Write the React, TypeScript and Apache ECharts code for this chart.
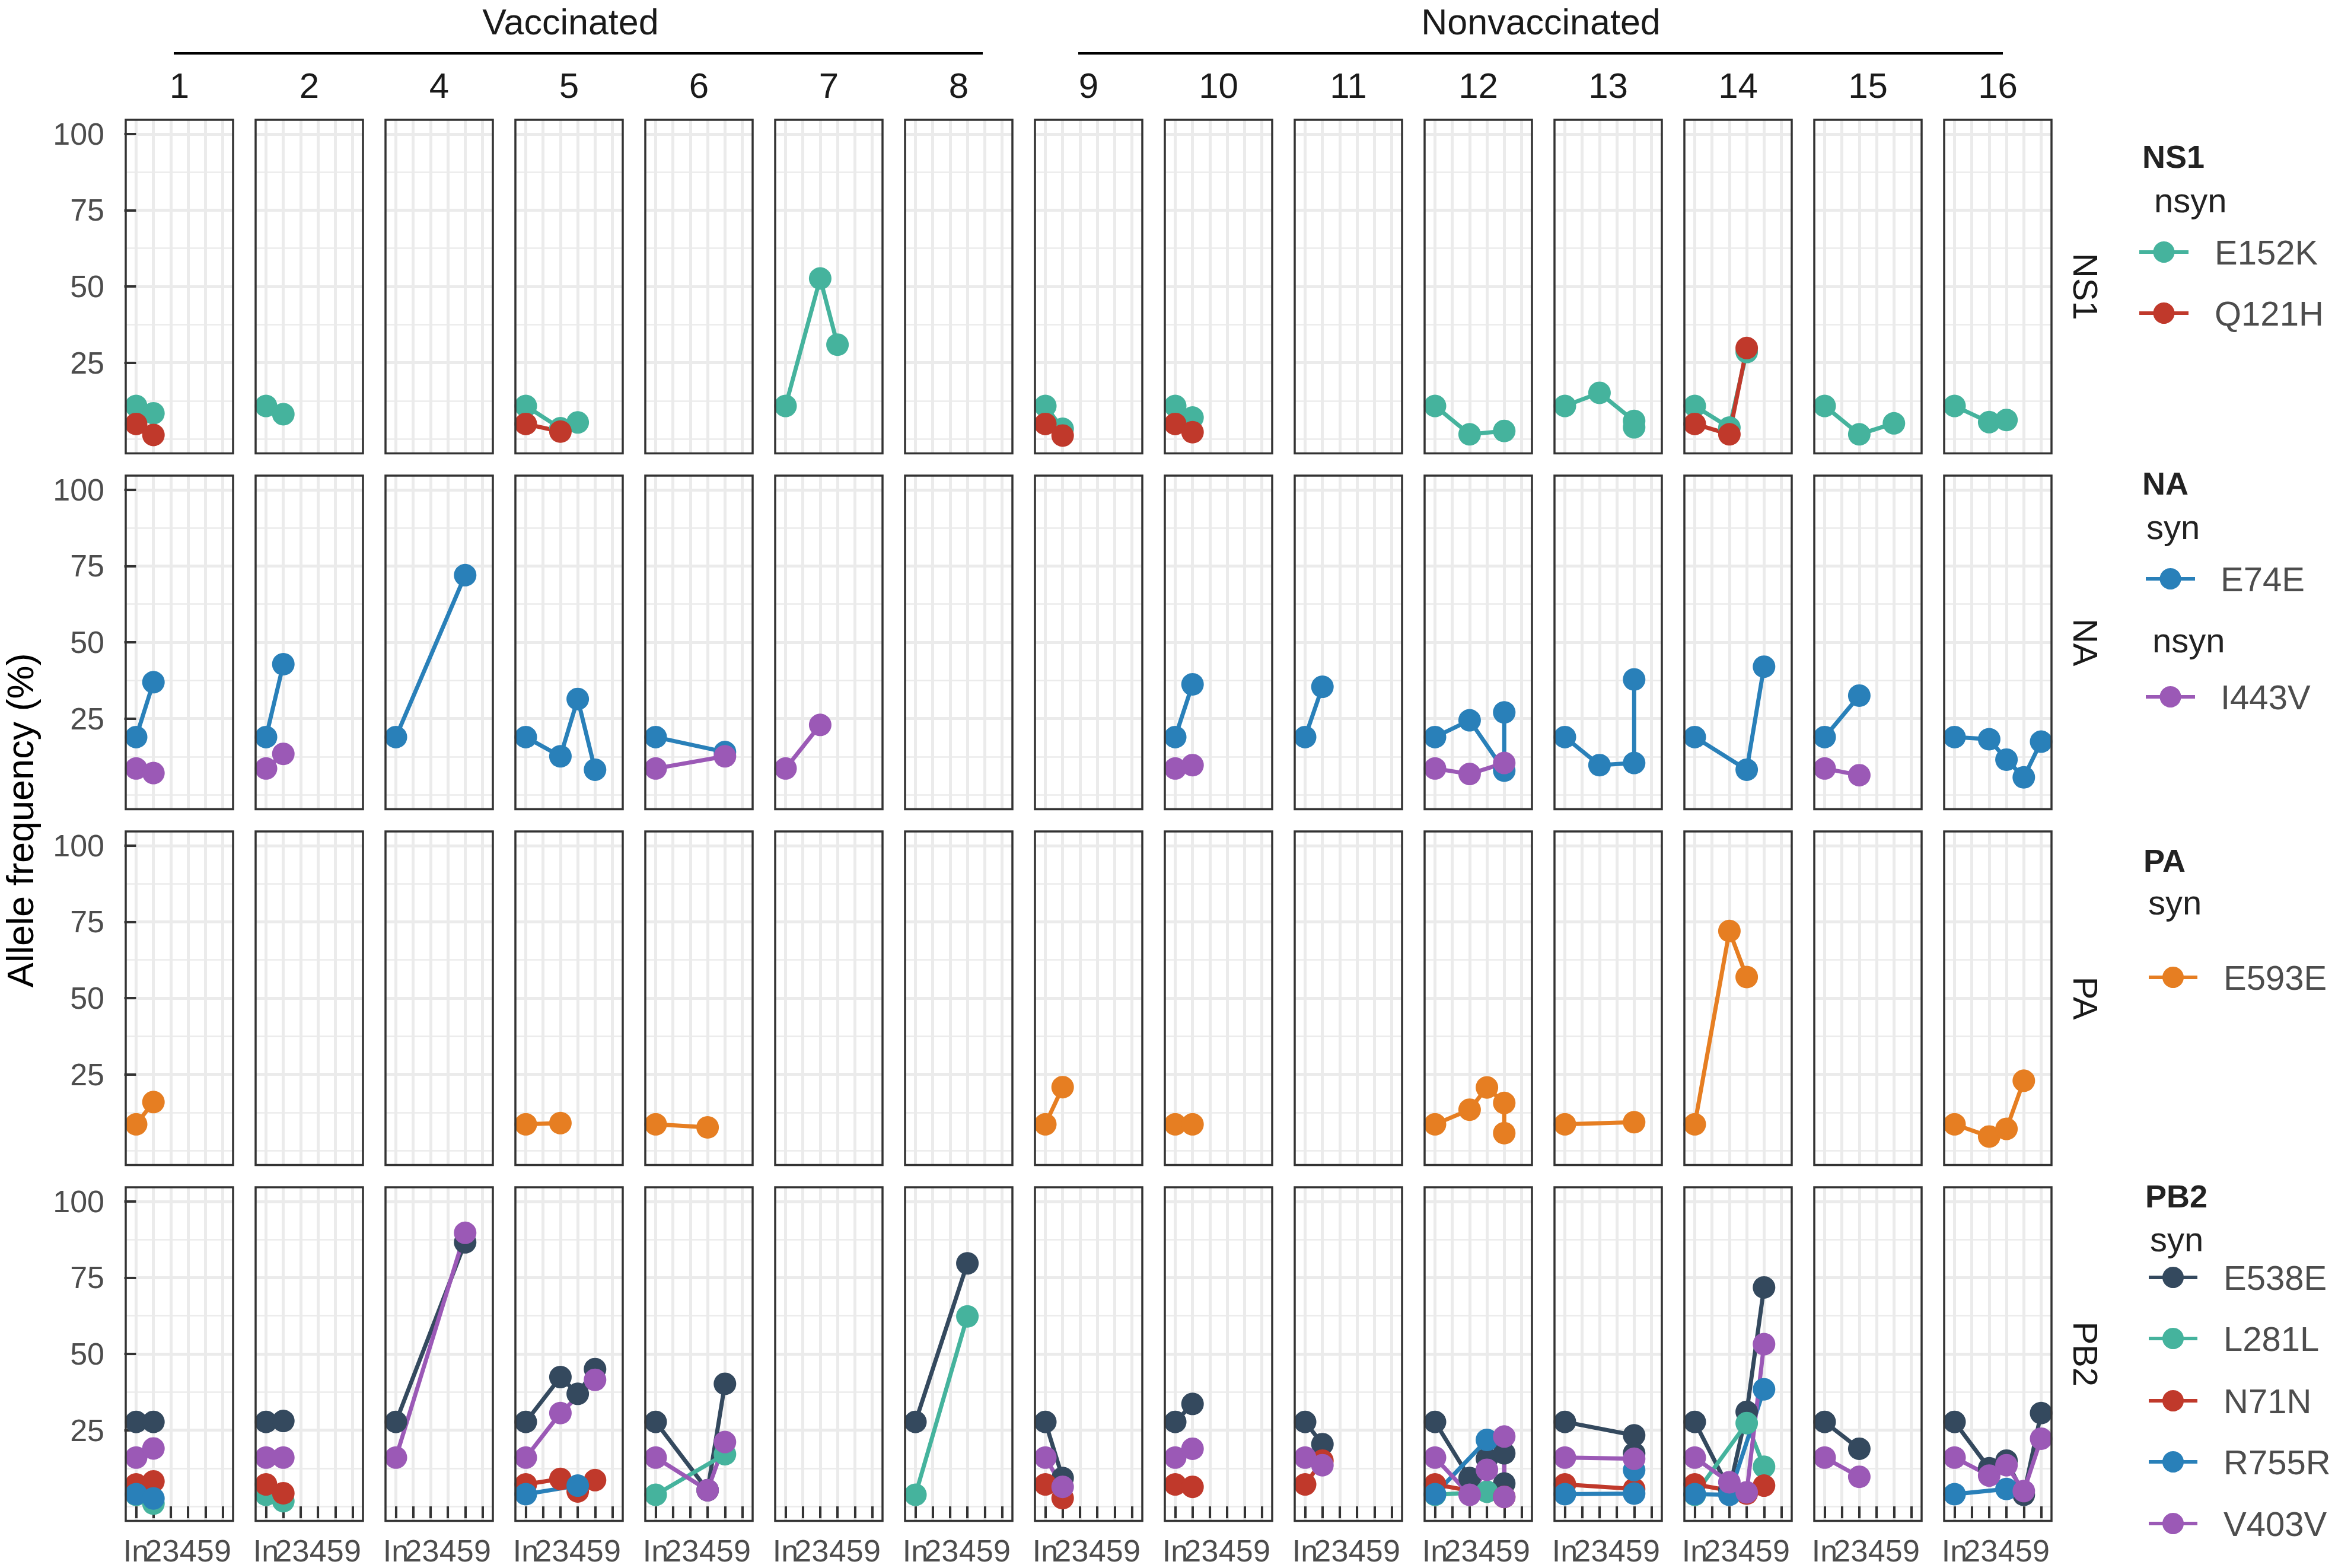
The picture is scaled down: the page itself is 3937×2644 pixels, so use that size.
import React, { useEffect, useRef } from "react";
import * as echarts from "echarts";

// ---------- data ----------
const columns = ["1", "2", "4", "5", "6", "7", "8", "9", "10", "11", "12", "13", "14", "15", "16"];
const timepoints = ["In", "2", "3", "4", "5", "9"];
const genes = ["NS1", "NA", "PA", "PB2"];
const yTicks = [25, 50, 75, 100];
const yMinor = [0, 12.5, 37.5, 62.5, 87.5];
const groupLabels = ["Vaccinated", "Nonvaccinated"];

type Pts = Record<string, [string, number][]>;

// NS1 nsyn
const NS1_E152K: Pts = {
  "1": [["In", 10.8], ["2", 8.4]],
  "2": [["In", 10.8], ["2", 8.1]],
  "5": [["In", 10.8], ["3", 3.5], ["4", 5.4]],
  "7": [["In", 10.8], ["3", 52.6], ["4", 30.9]],
  "9": [["In", 10.8], ["2", 3.3]],
  "10": [["In", 10.8], ["2", 7.0]],
  "12": [["In", 10.8], ["3", 1.5], ["5", 2.6]],
  "13": [["In", 10.8], ["3", 15.1], ["5", 5.9], ["5", 3.8]],
  "14": [["In", 10.8], ["3", 3.7], ["4", 28.5]],
  "15": [["In", 10.8], ["3", 1.5], ["5", 5.1]],
  "16": [["In", 10.8], ["3", 5.5], ["4", 6.2]],
};
const NS1_Q121H: Pts = {
  "1": [["In", 4.9], ["2", 1.3]],
  "5": [["In", 4.9], ["3", 2.4]],
  "9": [["In", 4.9], ["2", 1.1]],
  "10": [["In", 4.9], ["2", 2.2]],
  "14": [["In", 4.9], ["3", 1.5], ["4", 29.8]],
};
// NA syn
const NA_E74E: Pts = {
  "1": [["In", 18.9], ["2", 36.9]],
  "2": [["In", 18.9], ["2", 42.8]],
  "4": [["In", 18.9], ["5", 72.0]],
  "5": [["In", 18.9], ["3", 12.6], ["4", 31.4], ["5", 8.2]],
  "6": [["In", 18.9], ["5", 14.0]],
  "10": [["In", 18.9], ["2", 36.2]],
  "11": [["In", 18.9], ["2", 35.4]],
  "12": [["In", 18.9], ["3", 24.4], ["5", 7.9], ["5", 27.0]],
  "13": [["In", 18.9], ["3", 9.7], ["5", 10.4], ["5", 37.8]],
  "14": [["In", 18.9], ["4", 8.2], ["5", 42.0]],
  "15": [["In", 18.9], ["3", 32.5]],
  "16": [["In", 18.9], ["3", 18.2], ["4", 11.5], ["5", 5.7], ["9", 17.4]],
};
// NA nsyn
const NA_I443V: Pts = {
  "1": [["In", 8.6], ["2", 7.1]],
  "2": [["In", 8.6], ["2", 13.4]],
  "6": [["In", 8.6], ["5", 12.6]],
  "7": [["In", 8.6], ["3", 22.9]],
  "10": [["In", 8.6], ["2", 9.7]],
  "12": [["In", 8.6], ["3", 6.8], ["5", 10.4]],
  "15": [["In", 8.6], ["3", 6.4]],
};
// PA syn
const PA_E593E: Pts = {
  "1": [["In", 8.6], ["2", 15.9]],
  "5": [["In", 8.6], ["3", 9.0]],
  "6": [["In", 8.6], ["4", 7.6]],
  "9": [["In", 8.6], ["2", 20.8]],
  "10": [["In", 8.6], ["2", 8.6]],
  "12": [["In", 8.6], ["3", 13.4], ["4", 20.7], ["5", 15.6], ["5", 5.7]],
  "13": [["In", 8.6], ["5", 9.3]],
  "14": [["In", 8.6], ["3", 72.0], ["4", 56.9]],
  "16": [["In", 8.6], ["3", 4.6], ["4", 7.1], ["5", 22.9]],
};
// PB2 syn
const PB2_E538E: Pts = {
  "1": [["In", 27.7], ["2", 27.7]],
  "2": [["In", 27.7], ["2", 28.0]],
  "4": [["In", 27.7], ["5", 86.6]],
  "5": [["In", 27.7], ["3", 42.4], ["4", 36.9], ["5", 45.0]],
  "6": [["In", 27.7], ["4", 5.3], ["5", 40.2]],
  "8": [["In", 27.7], ["4", 79.7]],
  "9": [["In", 27.7], ["2", 9.3]],
  "10": [["In", 27.7], ["2", 33.6]],
  "11": [["In", 27.7], ["2", 20.4]],
  "12": [["In", 27.7], ["3", 9.3], ["4", 15.6], ["5", 17.4], ["5", 7.5]],
  "13": [["In", 27.7], ["5", 23.3], ["5", 17.4]],
  "14": [["In", 27.7], ["3", 5.5], ["4", 31.0], ["5", 71.8]],
  "15": [["In", 27.7], ["3", 18.9]],
  "16": [["In", 27.7], ["3", 12.5], ["4", 15.0], ["5", 3.8], ["9", 30.6]],
};
const PB2_L281L: Pts = {
  "1": [["In", 3.8], ["2", 0.9]],
  "2": [["In", 3.8], ["2", 1.7]],
  "6": [["In", 3.8], ["5", 17.1]],
  "8": [["In", 3.8], ["4", 62.3]],
  "12": [["In", 3.8], ["4", 4.8]],
  "14": [["In", 3.8], ["4", 27.3], ["5", 13.0]],
};
const PB2_N71N: Pts = {
  "1": [["In", 7.2], ["2", 8.2]],
  "2": [["In", 7.2], ["2", 4.3]],
  "5": [["In", 7.2], ["3", 9.0], ["4", 4.9], ["5", 8.6]],
  "9": [["In", 7.2], ["2", 2.7]],
  "10": [["In", 7.2], ["2", 6.4]],
  "11": [["In", 7.2], ["2", 15.0]],
  "12": [["In", 7.2], ["5", 3.1]],
  "13": [["In", 7.2], ["5", 5.7]],
  "14": [["In", 7.2], ["4", 4.2], ["5", 6.8]],
};
const PB2_R755R: Pts = {
  "1": [["In", 4.0], ["2", 2.6]],
  "5": [["In", 4.0], ["4", 6.8]],
  "12": [["In", 4.0], ["4", 21.8]],
  "13": [["In", 4.0], ["5", 4.2], ["5", 11.9]],
  "14": [["In", 4.0], ["3", 3.8], ["5", 38.4]],
  "16": [["In", 4.0], ["4", 5.7]],
};
const PB2_V403V: Pts = {
  "1": [["In", 16.0], ["2", 19.0]],
  "2": [["In", 16.0], ["2", 16.0]],
  "4": [["In", 16.0], ["5", 89.7]],
  "5": [["In", 16.0], ["3", 30.6], ["5", 41.5]],
  "6": [["In", 16.0], ["4", 5.3], ["5", 21.1]],
  "9": [["In", 16.0], ["2", 6.4]],
  "10": [["In", 16.0], ["2", 18.9]],
  "11": [["In", 16.0], ["2", 13.5]],
  "12": [["In", 16.0], ["3", 3.8], ["4", 12.0], ["5", 22.9], ["5", 3.1]],
  "13": [["In", 16.0], ["5", 15.6]],
  "14": [["In", 16.0], ["3", 7.9], ["4", 4.6], ["5", 53.2]],
  "15": [["In", 16.0], ["3", 9.7]],
  "16": [["In", 16.0], ["3", 10.1], ["4", 13.5], ["5", 5.0], ["9", 22.2]],
};

const TEAL = "#45B39D";
const RED = "#C0392B";
const BLUE = "#2980B9";
const PURPLE = "#9B59B6";
const ORANGE = "#E67E22";
const NAVY = "#34495E";

const mutations = [
  { gene: "NS1", type: "nsyn", name: "E152K", color: TEAL, data: NS1_E152K },
  { gene: "NS1", type: "nsyn", name: "Q121H", color: RED, data: NS1_Q121H },
  { gene: "NA", type: "syn", name: "E74E", color: BLUE, data: NA_E74E },
  { gene: "NA", type: "nsyn", name: "I443V", color: PURPLE, data: NA_I443V },
  { gene: "PA", type: "syn", name: "E593E", color: ORANGE, data: PA_E593E },
  { gene: "PB2", type: "syn", name: "E538E", color: NAVY, data: PB2_E538E },
  { gene: "PB2", type: "syn", name: "L281L", color: TEAL, data: PB2_L281L },
  { gene: "PB2", type: "syn", name: "N71N", color: RED, data: PB2_N71N },
  { gene: "PB2", type: "syn", name: "R755R", color: BLUE, data: PB2_R755R },
  { gene: "PB2", type: "syn", name: "V403V", color: PURPLE, data: PB2_V403V },
];

// ---------- layout ----------
const W = 3937;
const H = 2644;
const FONT = '"Liberation Sans", Arial, Helvetica, sans-serif';
const P_LEFT0 = 212;
const P_PITCH_X = 219;
const P_W = 181;
const P_TOP0 = 202;
const P_PITCH_Y = 600;
const P_H = 562.5;
const Y_MIN = -4.75;
const Y_MAX = 104.65;
const X_MIN = -0.6;
const X_MAX = 5.6;

function text(t: string, x: number, y: number, o: any = {}) {
  const align = o.align || "center";
  const valign = o.valign || "middle";
  const size = o.size || 60;
  return {
    type: "text",
    x,
    y,
    rotation: o.rotation || 0,
    silent: true,
    z: 100,
    style: {
      text: t,
      x: 0,
      y: 0,
      fill: o.color || "#1A1A1A",
      fontSize: size,
      lineHeight: o.lineHeight || size,
      fontFamily: FONT,
      fontWeight: o.weight || "normal",
      align,
      verticalAlign: valign,
      textAlign: align,
      textVerticalAlign: valign,
    },
  };
}

function xAxisDef(g: number, show: boolean, labelValues: number[], tickValues: number[] | null) {
  return {
    type: "value",
    gridIndex: g,
    position: "bottom",
    offset: 0,
    min: X_MIN,
    max: X_MAX,
    axisLine: { show: false },
    splitLine: { show: false },
    axisTick: {
      show: show && !!tickValues,
      customValues: tickValues || [],
      length: 20,
      lineStyle: { color: "#333333", width: 4 },
    },
    axisLabel: {
      show,
      customValues: labelValues,
      showMinLabel: true,
      showMaxLabel: true,
      hideOverlap: false,
      formatter: (v: number) => timepoints[Math.round(Number(v))] ?? "",
      fontSize: 52,
      fontFamily: FONT,
      color: "#4D4D4D",
      margin: 24,
    },
  };
}

function buildOption() {
  const grid: any[] = [];
  const xAxis: any[] = [];
  const yAxis: any[] = [];
  const series: any[] = [];
  const graphic: any[] = [];
  const tpIdx = timepoints.map((_, i) => i);
  const evenIdx = tpIdx.filter((i) => i % 2 === 0);
  const oddIdx = tpIdx.filter((i) => i % 2 === 1);

  genes.forEach((gene, r) => {
    columns.forEach((col, c) => {
      const g = r * columns.length + c;
      const left = P_LEFT0 + P_PITCH_X * c;
      const top = P_TOP0 + P_PITCH_Y * r;
      grid.push({ left, top, width: P_W, height: P_H, show: false, containLabel: false });
      const bottomRow = r === genes.length - 1;
      const firstCol = c === 0;
      const xi = xAxis.length;
      // main x axis (ticks + even labels) and a twin carrying the odd labels,
      // so that neighbouring labels are never dropped for overlapping
      xAxis.push(xAxisDef(g, bottomRow, evenIdx, tpIdx));
      xAxis.push(xAxisDef(g, bottomRow, oddIdx, null));
      yAxis.push({
        type: "value",
        gridIndex: g,
        min: Y_MIN,
        max: Y_MAX,
        axisLine: { show: false },
        splitLine: { show: false },
        axisTick: {
          show: firstCol,
          customValues: yTicks,
          length: 20,
          lineStyle: { color: "#333333", width: 4 },
        },
        axisLabel: {
          show: firstCol,
          customValues: yTicks,
          showMinLabel: true,
          showMaxLabel: true,
          fontSize: 52,
          fontFamily: FONT,
          color: "#4D4D4D",
          margin: 36,
        },
      });

      // gridlines
      const gl = { color: "#EBEBEB", type: "solid" };
      series.push({
        type: "line",
        xAxisIndex: xi,
        yAxisIndex: g,
        data: [],
        silent: true,
        z: 0,
        markLine: {
          z: 0,
          silent: true,
          animation: false,
          symbol: ["none", "none"],
          label: { show: false },
          emphasis: { disabled: true },
          data: [
            ...yMinor.map((v) => ({ yAxis: v, lineStyle: { ...gl, width: 2.5 } })),
            ...yTicks.map((v) => ({ yAxis: v, lineStyle: { ...gl, width: 5 } })),
            ...tpIdx.map((v) => ({ xAxis: v, lineStyle: { ...gl, width: 5 } })),
          ],
        },
      });

      const muts = mutations.filter((m) => m.gene === gene && m.data[col]);
      muts.forEach((m) => {
        series.push({
          type: "line",
          name: m.name,
          xAxisIndex: xi,
          yAxisIndex: g,
          data: m.data[col].map(([t, v]) => [timepoints.indexOf(t), v]),
          symbol: "none",
          lineStyle: { color: m.color, width: 7 },
          silent: true,
          z: 2,
        });
      });
      muts.forEach((m) => {
        series.push({
          type: "scatter",
          name: m.name,
          xAxisIndex: xi,
          yAxisIndex: g,
          data: m.data[col].map(([t, v]) => [timepoints.indexOf(t), v]),
          symbol: "circle",
          symbolSize: 38,
          itemStyle: { color: m.color, opacity: 1 },
          silent: true,
          z: 3,
        });
      });

      // panel border
      graphic.push({
        type: "rect",
        silent: true,
        z: 90,
        shape: { x: left, y: top, width: P_W, height: P_H },
        style: { fill: "none", stroke: "#333333", lineWidth: 3.5 },
      });

      if (r === 0) {
        graphic.push(text(col, left + P_W / 2, 144, { size: 60 }));
      }
    });
    // strip label right
    graphic.push(
      text(gene, 3516, P_TOP0 + P_PITCH_Y * r + P_H / 2, { size: 58, rotation: -Math.PI / 2 })
    );
  });

  // group headers
  graphic.push(text(groupLabels[0], 962, 37, { size: 61, lineHeight: 52 }));
  graphic.push(text(groupLabels[1], 2598, 37, { size: 61, lineHeight: 52 }));
  graphic.push({
    type: "line",
    silent: true,
    z: 100,
    shape: { x1: 293, y1: 90, x2: 1657, y2: 90 },
    style: { stroke: "#000000", lineWidth: 4 },
  });
  graphic.push({
    type: "line",
    silent: true,
    z: 100,
    shape: { x1: 1818, y1: 90, x2: 3377, y2: 90 },
    style: { stroke: "#000000", lineWidth: 4 },
  });

  // y axis title
  graphic.push(
    text("Allele frequency (%)", 34, P_TOP0 + (P_PITCH_Y * 3 + P_H) / 2, {
      size: 63,
      lineHeight: 54,
      rotation: Math.PI / 2,
      color: "#000000",
    })
  );

  // legends
  const legendBlocks = [
    {
      gene: "NS1", titleX: 3612, titleY: 264, keyX1: 3607, keyX2: 3690, labelX: 3734,
      rows: [
        { sub: "nsyn", x: 3632, y: 337 },
        { key: "E152K", y: 425 },
        { key: "Q121H", y: 528 },
      ],
    },
    {
      gene: "NA", titleX: 3612, titleY: 815, keyX1: 3618, keyX2: 3701, labelX: 3744,
      rows: [
        { sub: "syn", x: 3619, y: 888 },
        { key: "E74E", y: 976 },
        { sub: "nsyn", x: 3629, y: 1079 },
        { key: "I443V", y: 1175 },
      ],
    },
    {
      gene: "PA", titleX: 3614, titleY: 1451, keyX1: 3623, keyX2: 3705, labelX: 3749,
      rows: [
        { sub: "syn", x: 3622, y: 1521 },
        { key: "E593E", y: 1648 },
      ],
    },
    {
      gene: "PB2", titleX: 3617, titleY: 2017, keyX1: 3623, keyX2: 3705, labelX: 3749,
      rows: [
        { sub: "syn", x: 3625, y: 2089 },
        { key: "E538E", y: 2154 },
        { key: "L281L", y: 2257 },
        { key: "N71N", y: 2362 },
        { key: "R755R", y: 2465 },
        { key: "V403V", y: 2569 },
      ],
    },
  ];
  legendBlocks.forEach((b) => {
    graphic.push(text(b.gene, b.titleX, b.titleY, { align: "left", size: 54, weight: "bold", color: "#222222" }));
    b.rows.forEach((row: any) => {
      if (row.sub) {
        graphic.push(text(row.sub, row.x, row.y, { align: "left", size: 58, color: "#222222" }));
      } else {
        const m = mutations.find((mm) => mm.gene === b.gene && mm.name === row.key)!;
        graphic.push({
          type: "line",
          silent: true,
          z: 100,
          shape: { x1: b.keyX1, y1: row.y, x2: b.keyX2, y2: row.y },
          style: { stroke: m.color, lineWidth: 6 },
        });
        graphic.push({
          type: "circle",
          silent: true,
          z: 101,
          shape: { cx: (b.keyX1 + b.keyX2) / 2, cy: row.y, r: 18 },
          style: { fill: m.color },
        });
        graphic.push(text(m.name, b.labelX, row.y, { align: "left", size: 58, color: "#4D4D4D" }));
      }
    });
  });

  return {
    animation: false,
    backgroundColor: "#FFFFFF",
    grid,
    xAxis,
    yAxis,
    series,
    graphic,
  };
}

export default function App() {
  const ref = useRef<HTMLDivElement>(null);
  useEffect(() => {
    if (!ref.current) return;
    const chart = echarts.init(ref.current, undefined, { renderer: "svg", width: W, height: H });
    chart.setOption(buildOption() as any);
    return () => chart.dispose();
  }, []);
  return (
    <div
      ref={ref}
      style={{ position: "absolute", left: 0, top: 0, width: W, height: H, background: "#fff" }}
    />
  );
}
